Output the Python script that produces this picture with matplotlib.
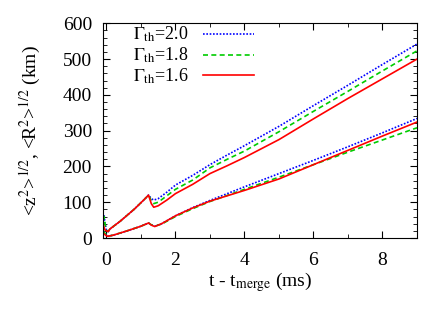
import numpy as np
import matplotlib
matplotlib.use('Agg')
import matplotlib.pyplot as plt
from matplotlib.ticker import MultipleLocator

plt.rcParams['font.family'] = ['Liberation Serif', 'DejaVu Serif']
plt.rcParams['mathtext.fontset'] = 'stix'

# <R^2>^(1/2) curves (upper group)
t_up = [-0.1, -0.07, -0.04, 0.0, 0.05, 0.1, 0.4, 0.8, 1.1, 1.22, 1.3, 1.37, 1.5, 1.75,
        2.0, 2.5, 3.0, 3.5, 4.0, 5.0, 6.0, 7.0, 8.0, 9.0]
up_20 = [30, 65, 40, 22, 18, 25, 47, 80, 108, 120, 110, 106, 110, 128,
         148, 175, 205, 232, 258, 312, 370, 427, 485, 542]
up_18 = [28, 60, 38, 22, 18, 25, 47, 80, 108, 120, 104, 96, 100, 118,
         136, 162, 196, 220, 243, 297, 354, 410, 467, 523]
up_16 = [40, 30, 22, 20, 18, 25, 47, 80, 108, 120, 96, 86, 90, 106,
         124, 150, 180, 202, 225, 275, 333, 390, 445, 500]

# <z^2>^(1/2) curves (lower group)
t_lo = [-0.1, -0.05, 0.0, 0.05, 0.2, 0.6, 1.0, 1.22, 1.3, 1.4, 1.6,
        2.0, 2.5, 3.0, 4.0, 5.0, 6.0, 7.0, 8.0, 9.0]
lo_20 = [20, 15, 8, 5, 8, 20, 33, 42, 37, 33, 40, 62, 85, 105, 143, 180, 217, 255, 294, 334]
lo_18 = [20, 14, 8, 5, 8, 20, 33, 42, 37, 33, 39, 60, 82, 102, 136, 170, 205, 240, 274, 308]
lo_16 = [15, 10, 6, 5, 8, 20, 33, 42, 36, 32, 40, 62, 84, 103, 133, 165, 205, 245, 285, 324]

labels = [r'$\Gamma_{\rm th}$=2.0', r'$\Gamma_{\rm th}$=1.8', r'$\Gamma_{\rm th}$=1.6']
colors = ['#0000ff', '#00cc00', '#ff0000']
styles = [(0, (1, 1)), (0, (3, 2)), '-']

fig = plt.figure(figsize=(4.47, 3.13), dpi=100)
ax = fig.add_axes([0.2304, 0.2396, 0.7025, 0.686])

handles = []
for up, lo, lab, c, ls in zip([up_20, up_18, up_16], [lo_20, lo_18, lo_16], labels, colors, styles):
    h, = ax.plot(t_up, up, color=c, linestyle=ls, linewidth=1.2, label=lab)
    ax.plot(t_lo, lo, color=c, linestyle=ls, linewidth=1.2)
    handles.append(h)

ax.set_xlim(-0.1, 9.0)
ax.set_ylim(0, 600)
ax.xaxis.set_major_locator(MultipleLocator(2))
ax.xaxis.set_minor_locator(MultipleLocator(1))
ax.yaxis.set_major_locator(MultipleLocator(100))
ax.yaxis.set_minor_locator(MultipleLocator(20))
ax.tick_params(which='both', direction='in', top=True, right=True, labelsize=14)
ax.tick_params(which='major', length=5)
ax.tick_params(which='minor', length=3)
ax.tick_params(axis='x', pad=10)
ax.tick_params(axis='y', pad=8)

ax.set_xlabel(r't - t$_{\rm merge}$ (ms)', fontsize=14)
ax.set_ylabel(r'<z$^2$>$^{1/2}$, <R$^2$>$^{1/2}$ (km)', fontsize=14)
ax.xaxis.set_label_coords(0.5, -0.15)
ax.yaxis.set_label_coords(-0.19, 0.5)

ax.legend(handles=handles, loc='upper left', bbox_to_anchor=(0.09, 1.0),
          frameon=False, markerfirst=False, fontsize=13, handlelength=2.8,
          handletextpad=0.8, labelspacing=0.08, borderpad=0.1, borderaxespad=0)

fig.savefig('out.png', dpi=100)
